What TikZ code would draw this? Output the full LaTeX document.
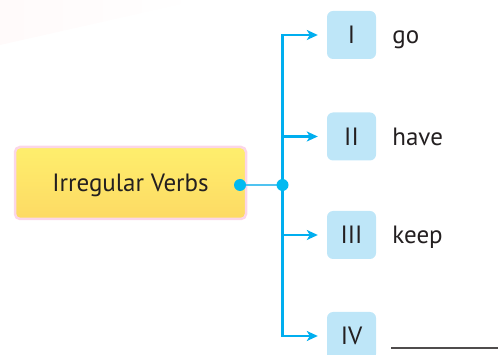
\documentclass[tikz,border=0pt]{standalone}
\usepackage{fontspec}
\setmainfont{PT Sans}
\usetikzlibrary{arrows.meta,positioning}

\definecolor{verbblue}{RGB}{0,174,239}
\definecolor{lineblue}{RGB}{80,195,240}
\definecolor{boxblue}{RGB}{190,230,248}
\definecolor{verbyellow}{RGB}{253,218,100}
\definecolor{verbpink}{RGB}{251,214,232}
\definecolor{inkgray}{RGB}{35,31,32}

\tikzset{
  mainbox/.style={draw=verbpink,line width=2.5pt,top color=verbyellow!60!yellow!75!white,
    bottom color=verbyellow,rounded corners=5pt,minimum width=231pt,minimum height=72pt,
    text depth=0pt,text=inkgray,font=\fontsize{25}{29}\selectfont},
  romanbox/.style={fill=boxblue,rounded corners=6pt,minimum width=49pt,minimum height=48pt,
    text=inkgray,font=\fontsize{25}{29}\selectfont},
  verbword/.style={text=inkgray,font=\fontsize{25}{29}\selectfont,inner sep=0pt},
  branch/.style={verbblue,line width=2.2pt,-{Stealth[length=11pt,width=10pt,inset=3pt]},shorten >=9pt},
  dot/.style={circle,fill=verbblue!85!cyan,inner sep=0pt,minimum size=12pt}
}

\begin{document}
\begin{tikzpicture}[x=1pt,y=-1pt]
  \useasboundingbox (0,0) rectangle (498,355);
  % faint wedge top left
  \shade[left color=red!2,right color=white] (0,0) -- (200,0) -- (0,45) -- cycle;

  \node[mainbox] (verbs) at (130.5,183) {Irregular Verbs};
  \node[romanbox] (r1) at (351.5,35) {I};
  \node[romanbox] (r2) at (351.5,136.5) {II};
  \node[romanbox] (r3) at (351.5,235) {III};
  \node[romanbox] (r4) at (351.5,336) {IV};

  \node[verbword,right=16pt of r1.base east,anchor=base west] (w1) {go};
  \node[verbword,right=16pt of r2.base east,anchor=base west] (w2) {have};
  \node[verbword,right=16pt of r3.base east,anchor=base west] (w3) {keep};
  \coordinate[right=15pt of r4.south east] (w4);
  \coordinate (w4end) at (500,348);

  \coordinate (start) at (240,185);
  \coordinate (jn) at (282.5,185);

  \draw[lineblue,line width=1.3pt] (start) -- (jn);
  \foreach \r in {r1,r2,r3,r4}
    \draw[branch] (jn) |- (\r.west);
  \node[dot] at (start) {};
  \node[dot] at (jn) {};

  \draw[inkgray!80,line width=1.5pt] (w4 |- w4end) -- (w4end);
\end{tikzpicture}
\end{document}
